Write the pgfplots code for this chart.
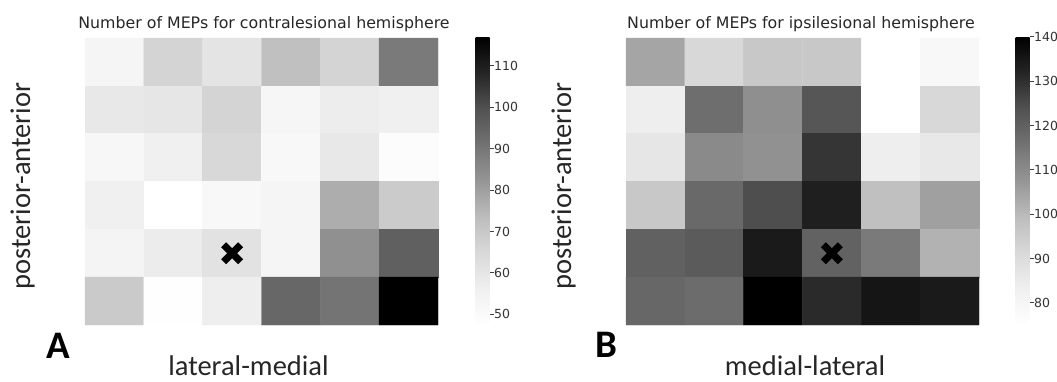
\documentclass[border=0pt]{standalone}
\usepackage{pgfplots}
\pgfplotsset{compat=1.18}
\usepackage{pgfplotstable}
\usepackage{fontspec}
\newfontfamily\dejavu{DejaVu Sans}
\newfontfamily\carlito{Carlito}

\pgfplotstableread{
x y c
0 0 53.2
1 0 66.3
2 0 60.6
3 0 72.6
4 0 66.3
5 0 89.2
0 1 59.1
1 1 59.9
2 1 66.3
3 1 52.6
4 1 57.2
5 1 56.1
0 2 52.0
1 2 56.1
2 2 65.1
3 2 51.3
4 2 59.1
5 2 49.1
0 3 56.1
1 3 47.4
2 3 51.3
3 3 53.2
4 3 77.1
5 3 69.2
0 4 53.9
1 4 57.6
2 4 61.4
3 4 53.2
4 4 83.7
5 4 95.9
0 5 69.5
1 5 48.0
2 5 56.9
3 5 94.0
4 5 90.6
5 5 117.0
}\dataA

\pgfplotstableread{
x y c
0 0 104.4
1 0 91.5
2 0 96.2
3 0 96.2
4 0 75.0
5 0 78.8
0 1 83.8
1 1 116.9
2 1 109.1
3 1 122.7
4 1 75.0
5 1 91.5
0 2 86.6
1 2 110.3
2 2 108.7
3 2 129.0
4 2 83.8
5 2 86.1
0 3 96.2
1 3 118.1
2 3 124.5
3 3 133.2
4 3 98.5
5 3 105.4
0 4 120.0
1 4 121.6
2 4 134.3
3 4 119.9
4 4 114.0
5 4 101.7
0 5 118.5
1 5 117.4
2 5 140.0
3 5 131.0
4 5 135.4
5 5 134.3
}\dataB

\pgfplotsset{
  heat/.style={
    scale only axis, width=353pt, height=287pt,
    xmin=-0.5, xmax=5.5, ymin=-0.5, ymax=5.5, y dir=reverse,
    enlargelimits=false,
    axis line style={draw=none}, xtick=\empty, ytick=\empty,
    colormap={greys}{rgb255=(255,255,255) rgb255=(240,240,240) rgb255=(217,217,217) rgb255=(189,189,189) rgb255=(150,150,150) rgb255=(115,115,115) rgb255=(82,82,82) rgb255=(37,37,37) rgb255=(0,0,0)},
    colorbar,
    clip=false,
  },
  cbar/.style={
    scale only axis, width=14pt, height=288pt,
    at={(parent axis.north east)}, anchor=north west, xshift=#1, yshift=1pt,
    axis line style={draw=none},
    xtick=\empty,
    ytick pos=right,
    tick align=outside, major tick length=4.5pt,
    ytick style={draw=black!75, line width=1pt},
    yticklabel shift=0pt,
    yticklabel style={font=\dejavu\fontsize{12.5}{13}\selectfont, text=black!80, anchor=west, inner sep=0pt, xshift=0pt},
    /pgf/number format/assume math mode=true,
  },
  xmark/.style={only marks, mark=x, mark size=12pt, line width=7pt, black},
}

\begin{document}
\begin{tikzpicture}
\useasboundingbox (0,0) rectangle (1057pt,381pt);

\begin{axis}[heat, at={(85pt,56pt)}, anchor=south west,
  point meta min=47.4, point meta max=117,
  colorbar style={cbar=29pt, ytick={50,60,...,110}}]
  \addplot[matrix plot*, mesh/cols=6, point meta=explicit] table[x=x, y=y, meta=c] {\dataA};
  \addplot[xmark] coordinates {(2,4)};
\end{axis}

\begin{axis}[heat, at={(626pt,56pt)}, anchor=south west,
  point meta min=75, point meta max=140,
  colorbar style={cbar=28pt, ytick={80,90,...,140}}]
  \addplot[matrix plot*, mesh/cols=6, point meta=explicit] table[x=x, y=y, meta=c] {\dataB};
  \addplot[xmark] coordinates {(3,4)};
\end{axis}

\node[anchor=base, inner sep=0pt, font=\dejavu\fontsize{15.8}{16}\selectfont, text=black!85] at (264pt,352pt) {Number of MEPs for contralesional hemisphere};
\node[anchor=base, inner sep=0pt, font=\dejavu\fontsize{15.8}{16}\selectfont, text=black!85] at (801pt,352pt) {Number of MEPs for ipsilesional hemisphere};

\node[anchor=base, inner sep=0pt, font=\carlito\fontsize{28.5}{30}\selectfont, text=black!85] at (248.5pt,5.5pt) {lateral-medial};
\node[anchor=base, inner sep=0pt, font=\carlito\fontsize{28.5}{30}\selectfont, text=black!85] at (805pt,5.5pt) {medial-lateral};

\node[rotate=90, anchor=base, inner sep=0pt, font=\carlito\fontsize{28.5}{30}\selectfont, text=black!85] at (30pt,195pt) {posterior-anterior};
\node[rotate=90, anchor=base, inner sep=0pt, font=\carlito\fontsize{28.5}{30}\selectfont, text=black!85] at (571pt,195pt) {posterior-anterior};

\node[anchor=base west, inner sep=0pt, font=\carlito\bfseries\fontsize{39}{40}\selectfont] at (46.5pt,22.7pt) {A};
\node[anchor=base west, inner sep=0pt, font=\carlito\bfseries\fontsize{39}{40}\selectfont] at (595pt,24pt) {B};
\end{tikzpicture}
\end{document}
